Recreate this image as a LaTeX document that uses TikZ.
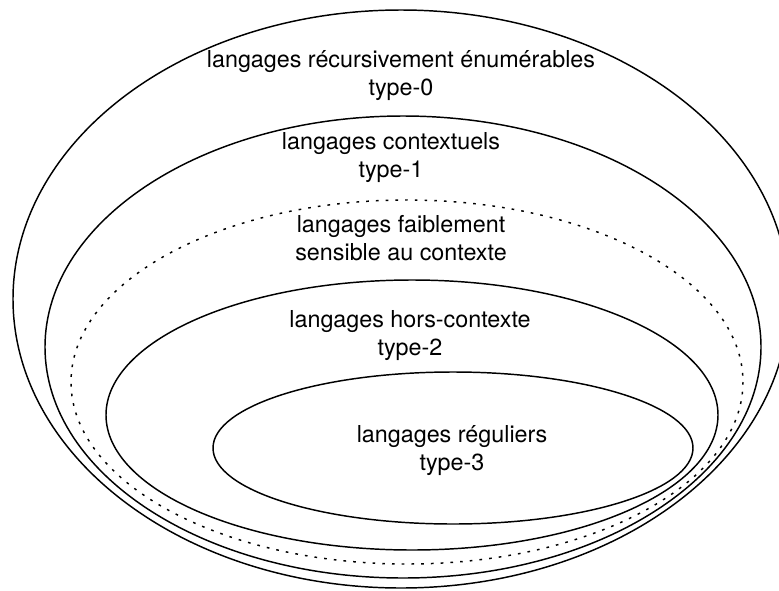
\documentclass[tikz,border=0pt]{standalone}
\usepackage{fontspec}
\setmainfont{TeX Gyre Heros}
\begin{document}
\begin{tikzpicture}[
                x=0.75pt, y=-0.75pt,
                LangSet/.style={draw, line width=1.1pt},
                WeakSet/.style={draw, line width=1.1pt, dash pattern=on 2pt off 5.3pt},
                LangLabel/.style={align=center, inner sep=0pt, font=\fontsize{17.5}{21}\selectfont},
            ]
            \useasboundingbox (0,0) rectangle (779,590);

            % Chomsky hierarchy, outermost set first
            \draw[LangSet] (401,299) ellipse [x radius=388, y radius=289];
            \draw[LangSet] (403,347) ellipse [x radius=358, y radius=231];
            \draw[WeakSet] (407,382) ellipse [x radius=336, y radius=182];
            \draw[LangSet] (412,415) ellipse [x radius=306, y radius=135];
            \draw[LangSet] (453,448) ellipse [x radius=240, y radius=76];

            \node[LangLabel] (type0) at (401,76) {langages récursivement énumérables\\type-0};
            \node[LangLabel] (type1) at (391,158) {langages contextuels\\type-1};
            \node[LangLabel] (mildly) at (401,238) {langages faiblement\\sensible au contexte};
            \node[LangLabel] (type2) at (410,336) {langages hors-contexte\\type-2};
            \node[LangLabel] (type3) at (452,451) {langages réguliers\\type-3};
        \end{tikzpicture}
\end{document}
